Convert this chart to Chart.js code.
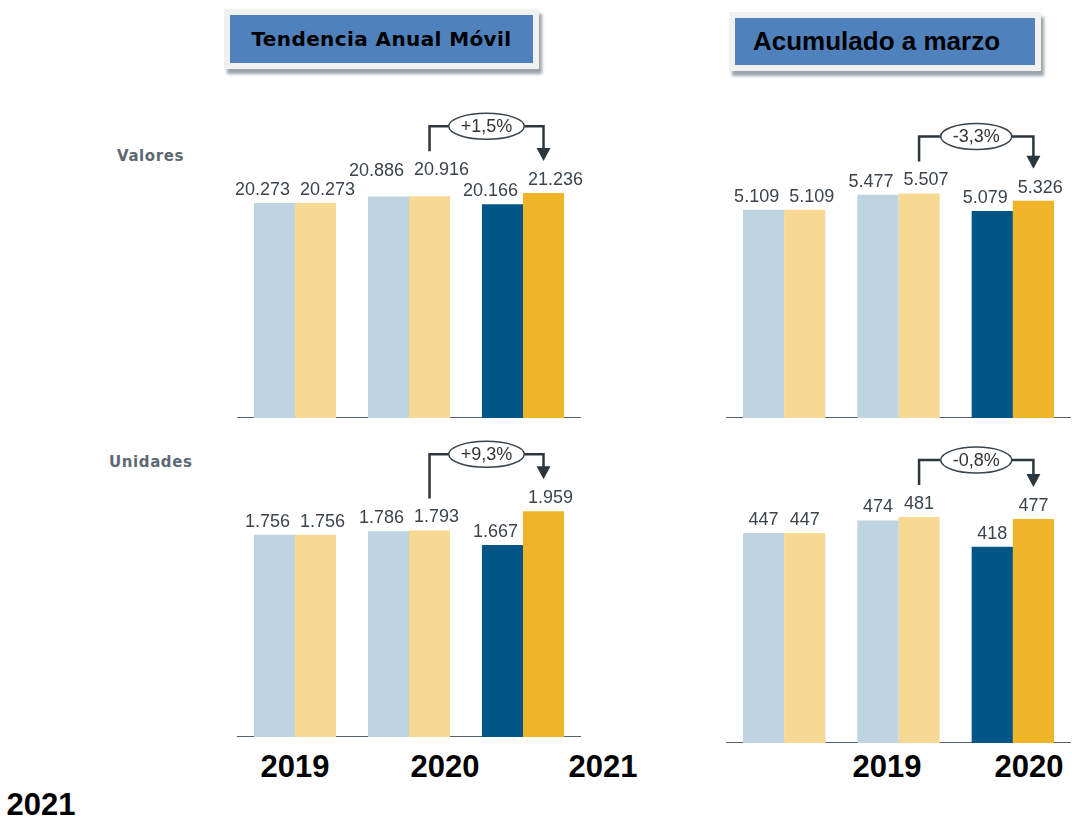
<!DOCTYPE html>
<html lang="es">
<head>
<meta charset="utf-8">
<title>Tendencia Anual Móvil / Acumulado a marzo</title>
<script src="https://cdn.jsdelivr.net/npm/chart.js"></script>
<style>
body { margin: 0; background: #fff; width: 1072px; height: 817px; position: relative; overflow: hidden; font-family: "Liberation Sans", Arial, sans-serif; }
canvas { position: absolute; }
.titulo { position: absolute; background: #4f81bd; border: 6px solid #f1f1f1; box-shadow: 3px 5px 3px #9aa3ab; color: #111; font-weight: bold; white-space: nowrap; }
#titulo1 { left: 224px; top: 9px; width: 303px; height: 48px; line-height: 48px; font-family: "DejaVu Sans", sans-serif; font-size: 20px; letter-spacing: 0.4px; text-align: center; color: #000; }
#titulo2 { left: 729px; top: 12px; width: 282px; height: 47px; line-height: 47px; padding-left: 18px; font-size: 26px; color: #000; }
.seccion { position: absolute; font-family: "DejaVu Sans", sans-serif; font-weight: bold; font-size: 15px; line-height: 15px; letter-spacing: 0.6px; color: #5d6872; }
.anio { position: absolute; font-weight: bold; font-size: 31px; line-height: 31px; color: #000; transform: translateX(-50%); }
</style>
</head>
<body>
<div class="titulo" id="titulo1">Tendencia Anual Móvil</div>
<div class="titulo" id="titulo2">Acumulado a marzo</div>
<div class="seccion" style="left:117px; top:149px;">Valores</div>
<div class="seccion" style="left:109px; top:455px;">Unidades</div>

<canvas id="tamValores" width="382" height="318" style="left:218px; top:100px;"></canvas>
<canvas id="tamUnidades" width="382" height="311" style="left:218px; top:426px;"></canvas>
<canvas id="marzoValores" width="383" height="318" style="left:707px; top:100px;"></canvas>
<canvas id="marzoUnidades" width="383" height="317" style="left:707px; top:426px;"></canvas>

<script>
var anios = ['2019', '2020', '2021'];
// TAM
var valoresTamAzul = [20273, 20886, 20166];
var valoresTamAmarillo = [20273, 20916, 21236];
var unidadesTamAzul = [1756, 1786, 1667];
var unidadesTamAmarillo = [1756, 1793, 1959];
// acumulado a marzo
var valoresMarzoAzul = [5109, 5477, 5079];
var valoresMarzoAmarillo = [5109, 5507, 5326];
var unidadesMarzoAzul = [447, 474, 418];
var unidadesMarzoAmarillo = [447, 481, 477];
var variaciones = ['+1,5%', '+9,3%', '-3,3%', '-0,8%'];

var azules = ['#bfd4e1', '#bfd4e1', '#005587'];
var amarillos = ['#f7d993', '#f7d993', '#f0b429'];

function formatear(n) {
    return String(n).replace(/\B(?=(\d{3})+(?!\d))/g, '.');
}

// linea base de la etiqueta de una barra
function baseEtiqueta(chart, bar, j) {
    var subir = chart.options.plugins.etiquetas.subir || [0, 0, 0];
    return bar.y - 8 - subir[j];
}

/*valores encima de las barras*/
var etiquetas = {
    id: 'etiquetas',
    afterDatasetsDraw: function (chart) {
        var c = chart.ctx;
        c.save();
        c.font = '18px "Liberation Sans"';
        c.fillStyle = '#3b444c';
        c.textAlign = 'center';
        c.textBaseline = 'alphabetic';
        chart.data.datasets.forEach(function (ds, i) {
            chart.getDatasetMeta(i).data.forEach(function (bar, j) {
                var txt = formatear(ds.data[j]);
                var w = c.measureText(txt).width;
                var desp = Math.max(0, (w + 10 - bar.width) / 2);
                var x = i === 0 ? bar.x - desp : bar.x + desp;
                c.fillText(txt, x, baseEtiqueta(chart, bar, j));
            });
        });
        c.restore();
    }
};

/*flecha con la variacion*/
var flecha = {
    id: 'flecha',
    afterDraw: function (chart, args, opts) {
        var c = chart.ctx;
        var meta = chart.getDatasetMeta(1);
        var b1 = meta.data[1], b2 = meta.data[2];
        var y1 = baseEtiqueta(chart, b1, 1) - 24;
        var y2 = baseEtiqueta(chart, b2, 2) - 24;
        var yt = Math.min(y1, y2) - 25;
        var xm = (b1.x + b2.x) / 2;
        c.save();
        c.font = '18px "Liberation Sans"';
        var w = c.measureText(opts.texto).width + 24;
        var h = 26;
        c.strokeStyle = '#2b373f';
        c.lineWidth = 2.5;
        c.beginPath();
        c.moveTo(b1.x, y1);
        c.lineTo(b1.x, yt);
        c.lineTo(xm - w / 2, yt);
        c.moveTo(xm + w / 2, yt);
        c.lineTo(b2.x, yt);
        c.lineTo(b2.x, y2 - 12);
        c.stroke();
        c.fillStyle = '#2b373f';
        c.beginPath();
        c.moveTo(b2.x - 7, y2 - 13);
        c.lineTo(b2.x + 7, y2 - 13);
        c.lineTo(b2.x, y2);
        c.closePath();
        c.fill();
        c.beginPath();
        c.ellipse(xm, yt, w / 2, h / 2, 0, 0, Math.PI * 2);
        c.fillStyle = '#fff';
        c.fill();
        c.lineWidth = 1.5;
        c.strokeStyle = '#3a444c';
        c.stroke();
        c.fillStyle = '#333';
        c.textAlign = 'center';
        c.textBaseline = 'middle';
        c.fillText(opts.texto, xm, yt + 1);
        c.restore();
    }
};

function crearGrafico(id, azul, amarillo, maximo, variacion, subir) {
    var ctx = document.getElementById(id).getContext('2d');
    return new Chart(ctx, {
        type: 'bar',
        data: {
            labels: anios,
            datasets: [{
                label: 'Mercado',
                data: azul,
                backgroundColor: azules
            }, {
                label: 'Empresa',
                data: amarillo,
                backgroundColor: amarillos
            }]
        },
        options: {
            responsive: false,
            animation: false,
            layout: { padding: { left: 20, right: 20, top: 0, bottom: 0 } },
            datasets: { bar: { categoryPercentage: 0.72, barPercentage: 1, borderWidth: 0 } },
            plugins: {
                legend: { display: false },
                tooltip: { enabled: false },
                etiquetas: { subir: subir },
                flecha: { texto: variacion }
            },
            scales: {
                x: {
                    grid: { display: false, drawTicks: false },
                    ticks: { display: false },
                    border: { color: '#56616a', width: 2 }
                },
                y: { display: false, min: 0, max: maximo }
            }
        },
        plugins: [etiquetas, flecha]
    });
}

crearGrafico('tamValores', valoresTamAzul, valoresTamAmarillo, 30000, variaciones[0], [0, 13, 0]);
crearGrafico('tamUnidades', unidadesTamAzul, unidadesTamAmarillo, 2700, variaciones[1], [0, 0, 0]);
crearGrafico('marzoValores', valoresMarzoAzul, valoresMarzoAmarillo, 7800, variaciones[2], [0, 0, 0]);
crearGrafico('marzoUnidades', unidadesMarzoAzul, unidadesMarzoAmarillo, 675, variaciones[3], [0, 0, 0]);

/*años debajo de los graficos*/
var posAnios = [
    [295, 751], [445, 751], [603, 751],
    [887, 751], [1029, 751], [41, 789]
];
posAnios.forEach(function (p, i) {
    var d = document.createElement('div');
    d.className = 'anio';
    d.textContent = anios[i % 3];
    d.style.left = p[0] + 'px';
    d.style.top = p[1] + 'px';
    document.body.appendChild(d);
});
</script>
</body>
</html>
